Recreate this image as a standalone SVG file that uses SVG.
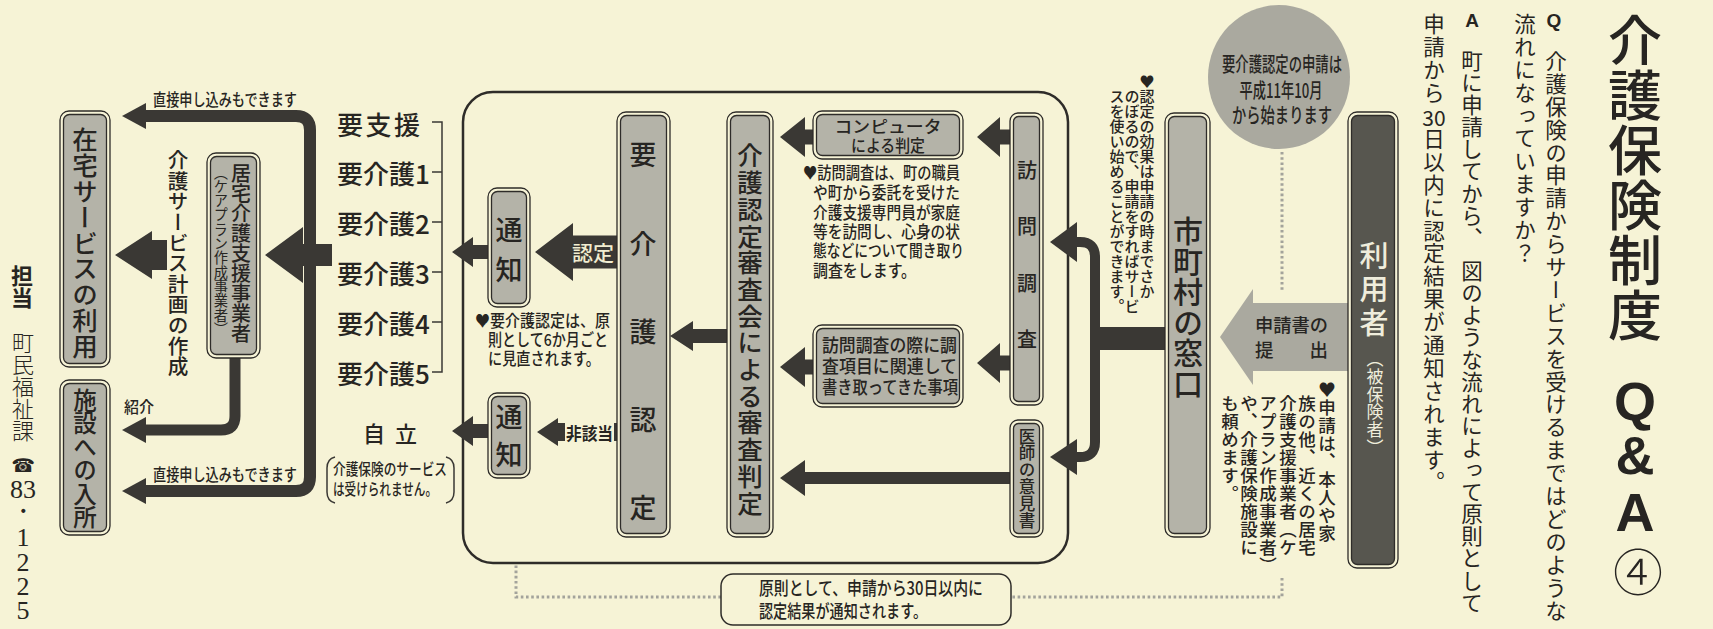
<svg xmlns="http://www.w3.org/2000/svg" width="1713" height="629" viewBox="0 0 1713 629">
<style>
.bg{fill:#f6f3d6}
.bo{fill:#f6f3d6;stroke:#2e2c29;stroke-width:1.3}
.bi{fill:#b4b3a8;stroke:#2e2c29;stroke-width:1.3}
.bd{fill:#57564f;stroke:#2e2c29;stroke-width:1.3}
.ar{fill:#3a3834}
.ln{fill:none;stroke:#3a3834}
.dot{fill:none;stroke:#a3a39b;stroke-width:3;stroke-dasharray:2.6 2.6}
text{font-family:"Noto Sans CJK JP","Noto Sans",sans-serif;fill:#272522}
.v{writing-mode:vertical-rl}
.c{dominant-baseline:central}
.m{text-anchor:middle}
.w{font-weight:500}
.lat{font-family:"Liberation Sans",Arial,sans-serif;font-weight:bold}
</style>
<rect class="bg" x="0" y="0" width="1713" height="629"/>

<g id="frame">
<rect x="463" y="92" width="605" height="471" rx="30" fill="none" stroke="#2e2c29" stroke-width="2.5"/>
</g>

<g id="connectors">
<path class="dot" d="M1282,152 V290 M1282,578 V597 H1011 M721,597 H516 V564"/>
<path class="ln" stroke-width="12" d="M144,116 H296 Q310,116 310,130 V477 Q310,491 296,491 H144"/>
<path class="ar" d="M122,116 L146,103 L146,129 Z"/>
<path class="ar" d="M122,491 L146,478 L146,504 Z"/>
<path class="ar" d="M115,255 L152,231 L152,240 L167,240 L167,270 L152,270 L152,279 Z"/>
<path class="ar" d="M265,255 L303,227 L303,244 L332,244 L332,266 L303,266 L303,283 Z"/>
<path class="ln" stroke-width="11" d="M235,358 V416 Q235,430 221,430 H144"/>
<path class="ar" d="M122,430 L146,417 L146,443 Z"/>
<path class="ar" d="M452,252 L473,237 L473,245 L490,245 L490,259 L473,259 L473,267 Z"/>
<path class="ar" d="M452,431 L473,416 L473,424 L490,424 L490,438 L473,438 L473,446 Z"/>
<path class="ar" d="M535,252 L573,223 L573,235.5 L619,235.5 L619,268.5 L573,268.5 L573,281 Z"/>
<text class="c w" x="572" y="252" font-size="20" font-weight="700" textLength="42" lengthAdjust="spacingAndGlyphs" style="fill:#f1edd0">認定</text>
<path class="ar" d="M537,432 L558,418 L558,423 L619,423 L619,441 L558,441 L558,446 Z"/>
<rect class="bg" x="565" y="420" width="49" height="24"/>
<text class="c" x="566" y="432" font-size="17" font-weight="700" textLength="47" lengthAdjust="spacingAndGlyphs">非該当</text>
<path class="ar" d="M670,336 L693,321 L693,329 L729,329 L729,343 L693,343 L693,351 Z"/>
<path class="ar" d="M780,137 L805,117 L805,129.5 L815,129.5 L815,144.5 L805,144.5 L805,157 Z"/>
<path class="ar" d="M977,137 L1000,117 L1000,129.5 L1012,129.5 L1012,144.5 L1000,144.5 L1000,157 Z"/>
<path class="ar" d="M977,363 L1000,343 L1000,355.5 L1012,355.5 L1012,370.5 L1000,370.5 L1000,383 Z"/>
<path class="ar" d="M780,367 L805,347 L805,359.5 L815,359.5 L815,374.5 L805,374.5 L805,387 Z"/>
<path class="ar" d="M780,478 L805,460 L805,472 L1012,472 L1012,484 L805,484 L805,496 Z"/>
<path class="ar" d="M1093,327 H1167 V350 H1093 Z"/>
<path class="ln" stroke-width="10" d="M1075,242 H1080 Q1095,242 1095,257 V442 Q1095,457 1080,457 H1075"/>
<path class="ar" d="M1050,242 L1077,222 L1077,262 Z"/>
<path class="ar" d="M1050,457 L1077,439 L1077,475 Z"/>
<path d="M1220,337 L1253,289 L1253,303 L1350,303 L1350,371 L1253,371 L1253,385 Z" fill="#aaa99f"/>
<text class="c" x="1255" y="324" font-size="18.5" font-weight="500" textLength="73" lengthAdjust="spacingAndGlyphs">申請書の</text>
<text class="c" x="1255" y="349" font-size="18.5" font-weight="500" textLength="73" lengthAdjust="spacing">提　　出</text>
<text class="c" x="153" y="99" font-size="16.5" font-weight="500" textLength="144" lengthAdjust="spacingAndGlyphs">直接申し込みもできます</text>
<text class="c" x="153" y="474" font-size="16.5" font-weight="500" textLength="144" lengthAdjust="spacingAndGlyphs">直接申し込みもできます</text>
<text class="c" x="124" y="406" font-size="16" font-weight="500" textLength="30" lengthAdjust="spacingAndGlyphs">紹介</text>
</g>

<g id="title">
<text class="v w" x="1635" y="13" font-size="54" letter-spacing="1">介護保険制度</text>
<text class="lat m c" x="1635" y="401" font-size="54">Q</text>
<text class="lat m c" x="1635" y="455" font-size="54">&amp;</text>
<text class="lat m c" x="1635" y="512" font-size="54">A</text>
<text class="m c" x="1638" y="569" font-size="50" font-weight="300">④</text>
</g>

<g id="question">
<text class="lat m c" x="1554" y="20" font-size="19">Q</text>
<text class="v" x="1556" y="50" font-size="21.5" letter-spacing="1.4">介護保険の申請からサービスを受けるまではどのような</text>
<text class="v" x="1525" y="13" font-size="21.5" letter-spacing="1.4">流れになっていますか？</text>
</g>

<g id="answer">
<text class="lat m c" x="1472" y="20" font-size="19">A</text>
<text class="v" x="1472" y="50" font-size="21.5" letter-spacing="0.6">町に申請してから、　図のような流れによって原則として</text>
<text class="v" x="1434" y="13" font-size="21.5" letter-spacing="1.4">申請から</text>
<text class="m c" x="1434" y="116.5" font-size="21">30</text>
<text class="v" x="1434" y="128" font-size="21.5" letter-spacing="1.4">日以内に認定結果が通知されます。</text>
</g>

<g id="node-start">
<ellipse cx="1279" cy="77" rx="71" ry="72" fill="#aaa99f"/>
<text class="m c w" x="1282" y="63" font-size="20" textLength="120" lengthAdjust="spacingAndGlyphs">要介護認定の申請は</text>
<text class="m c w" x="1281" y="89" font-size="20" textLength="83" lengthAdjust="spacingAndGlyphs">平成11年10月</text>
<text class="m c w" x="1282" y="114" font-size="20" textLength="100" lengthAdjust="spacingAndGlyphs">から始まります</text>
</g>

<g id="node-riyosha">
<rect class="bo" x="1348" y="112" width="50" height="456" rx="9"/>
<rect class="bd" x="1351.5" y="115.5" width="43" height="449" rx="6"/>
<text class="v w" x="1374" y="241" font-size="29" letter-spacing="4.5" style="fill:#efeddc">利用者</text>
<text class="v" x="1375" y="350" font-size="17" letter-spacing="0.8" style="fill:#efeddc">（被保険者）</text>
</g>

<g id="note-shinsei">
<text class="v w" x="1327" y="381" font-size="17.5" letter-spacing="0.5">♥申請は、本人や家</text>
<text class="v w" x="1307" y="395" font-size="17.5" letter-spacing="0.5">族の他、近くの居宅</text>
<text class="v w" x="1288" y="395" font-size="17.5" letter-spacing="0.5">介護支援事業者（ケ</text>
<text class="v w" x="1268" y="395" font-size="17.5" letter-spacing="0.5">アプラン作成事業者）</text>
<text class="v w" x="1249" y="395" font-size="17.5" letter-spacing="0.5">や、介護保険施設に</text>
<text class="v w" x="1230" y="395" font-size="17.5" letter-spacing="0.5">も頼めます。</text>
</g>

<g id="node-shichoson">
<rect class="bo" x="1165" y="113" width="45" height="424" rx="9"/>
<rect class="bi" x="1168.5" y="116.5" width="38" height="417" rx="6"/>
<text class="v w" x="1188" y="216" font-size="30" letter-spacing="0.5">市町村の窓口</text>
</g>

<g id="note-kouka">
<text class="v w" x="1147" y="74" font-size="15">♥認定の効果は申請の時までさか</text>
<text class="v w" x="1132" y="89" font-size="15">のぼるので、申請をすればサービ</text>
<text class="v w" x="1117" y="89" font-size="15">スを使い始めることができます。</text>
</g>

<g id="node-houmon">
<rect class="bo" x="1010" y="113" width="33" height="292" rx="8"/>
<rect class="bi" x="1013.5" y="116.5" width="26" height="285" rx="5"/>
<text class="v w" x="1027" y="160" font-size="20" letter-spacing="36.5">訪問調査</text>
</g>

<g id="node-ishi">
<rect class="bo" x="1010" y="420" width="33" height="117" rx="8"/>
<rect class="bi" x="1013.5" y="423.5" width="26" height="110" rx="5"/>
<text class="v w" x="1027" y="428" font-size="16.5" letter-spacing="0.4">医師の意見書</text>
</g>

<g id="node-computer">
<rect class="bo" x="813" y="111" width="150" height="48" rx="9"/>
<rect class="bi" x="816.5" y="114.5" width="143" height="41" rx="6"/>
<text class="m c w" x="888" y="126" font-size="16.5" textLength="107" lengthAdjust="spacingAndGlyphs">コンピュータ</text>
<text class="m c w" x="888" y="145" font-size="16.5" textLength="74" lengthAdjust="spacingAndGlyphs">による判定</text>
</g>

<g id="note-houmon">
<text class="c w" x="803" y="172" font-size="16.5" textLength="157" lengthAdjust="spacingAndGlyphs">♥訪問調査は、町の職員</text>
<text class="c w" x="813" y="192" font-size="16.5" textLength="147" lengthAdjust="spacingAndGlyphs">や町から委託を受けた</text>
<text class="c w" x="813" y="212" font-size="16.5" textLength="147" lengthAdjust="spacingAndGlyphs">介護支援専門員が家庭</text>
<text class="c w" x="813" y="231" font-size="16.5" textLength="147" lengthAdjust="spacingAndGlyphs">等を訪問し、心身の状</text>
<text class="c w" x="813" y="250" font-size="16.5" textLength="151" lengthAdjust="spacingAndGlyphs">態などについて聞き取り</text>
<text class="c w" x="813" y="270" font-size="16.5" textLength="103" lengthAdjust="spacingAndGlyphs">調査をします。</text>
</g>

<g id="node-memo">
<rect class="bo" x="813" y="325" width="150" height="82" rx="9"/>
<rect class="bi" x="816.5" y="328.5" width="143" height="75" rx="6"/>
<text class="c w" x="822" y="344" font-size="18.5" textLength="135" lengthAdjust="spacingAndGlyphs">訪問調査の際に調</text>
<text class="c w" x="822" y="365" font-size="18.5" textLength="135" lengthAdjust="spacingAndGlyphs">査項目に関連して</text>
<text class="c w" x="822" y="386" font-size="18.5" textLength="136" lengthAdjust="spacingAndGlyphs">書き取ってきた事項</text>
</g>

<g id="node-shinsa">
<rect class="bo" x="727" y="112" width="46" height="425" rx="9"/>
<rect class="bi" x="730.5" y="115.5" width="39" height="418" rx="6"/>
<text class="v w" x="750" y="143" font-size="25.5" letter-spacing="1.2">介護認定審査会による審査判定</text>
</g>

<g id="node-yokaigo">
<rect class="bo" x="617" y="112" width="53" height="425" rx="9"/>
<rect class="bi" x="620.5" y="115.5" width="46" height="418" rx="6"/>
<text class="v w" x="643" y="141.5" font-size="27" letter-spacing="61.3">要介護認定</text>
</g>

<g id="node-tsuchi1">
<rect class="bo" x="488" y="188" width="42" height="119" rx="9"/>
<rect class="bi" x="491.5" y="191.5" width="35" height="112" rx="6"/>
<text class="v w" x="509" y="216.5" font-size="27" letter-spacing="13">通知</text>
</g>

<g id="note-minaoshi">
<text class="c w" x="475" y="320" font-size="16.5" textLength="135" lengthAdjust="spacingAndGlyphs">♥要介護認定は、原</text>
<text class="c w" x="488" y="339" font-size="16.5" textLength="120" lengthAdjust="spacingAndGlyphs">則として6か月ごと</text>
<text class="c w" x="488" y="358" font-size="16.5" textLength="112" lengthAdjust="spacingAndGlyphs">に見直されます。</text>
</g>

<g id="node-tsuchi2">
<rect class="bo" x="488" y="393" width="42" height="85" rx="9"/>
<rect class="bi" x="491.5" y="396.5" width="35" height="78" rx="6"/>
<text class="v w" x="509" y="403.5" font-size="27" letter-spacing="11">通知</text>
</g>

<g id="levels">
<path class="ln" stroke-width="1.5" d="M432,122 H442 V372 H432 M432,172 H442 M432,222 H442 M432,272 H442 M432,322 H442"/>
<text class="c w" x="337" y="123" font-size="26" textLength="83" lengthAdjust="spacing">要 支 援</text>
<text class="c w" x="337" y="172" font-size="26">要介護1</text>
<text class="c w" x="337" y="222" font-size="26">要介護2</text>
<text class="c w" x="337" y="272" font-size="26">要介護3</text>
<text class="c w" x="337" y="322" font-size="26">要介護4</text>
<text class="c w" x="337" y="372" font-size="26">要介護5</text>
</g>

<g id="node-jiritsu">
<text class="c w" x="363" y="432" font-size="22" textLength="54" lengthAdjust="spacing">自 立</text>
<path class="ln" stroke-width="1.5" d="M335,457 Q327,459 327,468 V492 Q327,501 335,503 M446,457 Q454,459 454,468 V492 Q454,501 446,503"/>
<text class="c w" x="333" y="468" font-size="15.5" textLength="114" lengthAdjust="spacingAndGlyphs">介護保険のサービス</text>
<text class="c w" x="333" y="488" font-size="15.5" textLength="104" lengthAdjust="spacingAndGlyphs">は受けられません。</text>
</g>

<g id="node-kyotaku">
<rect class="bo" x="207" y="153" width="53" height="205" rx="9"/>
<rect class="bi" x="210.5" y="156.5" width="46" height="198" rx="6"/>
<text class="v w" x="241" y="163" font-size="20">居宅介護支援事業者</text>
<text class="v" x="221" y="165" font-size="14.3">（ケアプラン作成事業者）</text>
</g>

<g id="label-careplan">
<text class="v w" x="178" y="150" font-size="20.6">介護サービス計画の作成</text>
</g>

<g id="node-zaitaku">
<rect class="bo" x="60" y="111" width="50" height="256" rx="9"/>
<rect class="bi" x="63.5" y="114.5" width="43" height="249" rx="6"/>
<text class="v w" x="85" y="127" font-size="25.5" letter-spacing="0.3">在宅サービスの利用</text>
</g>

<g id="node-shisetsu">
<rect class="bo" x="60" y="380" width="50" height="155" rx="9"/>
<rect class="bi" x="63.5" y="383.5" width="43" height="148" rx="6"/>
<text class="v w" x="85" y="388" font-size="23.5" letter-spacing="0">施設への入所</text>
</g>

<g id="node-result">
<rect class="bo" x="721" y="574" width="290" height="51" rx="12" style="stroke-width:1.5"/>
<text class="c w" x="759" y="587" font-size="18.5" textLength="224" lengthAdjust="spacingAndGlyphs">原則として、申請から30日以内に</text>
<text class="c w" x="759" y="610" font-size="18.5" textLength="168" lengthAdjust="spacingAndGlyphs">認定結果が通知されます。</text>
</g>

<g id="contact">
<text class="v" x="22" y="265" font-size="22" font-weight="700">担当</text>
<text class="v" x="23" y="332" font-size="22" font-weight="300">町民福祉課</text>
<text class="m c" x="23" y="465" font-size="19" style="font-family:'DejaVu Sans',sans-serif">☎</text>
<text class="m c" font-size="26" style="font-family:'Liberation Serif',serif"><tspan x="23" y="489">83</tspan><tspan x="23" y="511">・</tspan><tspan x="23" y="537">1</tspan><tspan x="23" y="562">2</tspan><tspan x="23" y="586">2</tspan><tspan x="23" y="610">5</tspan></text>
</g>
</svg>
